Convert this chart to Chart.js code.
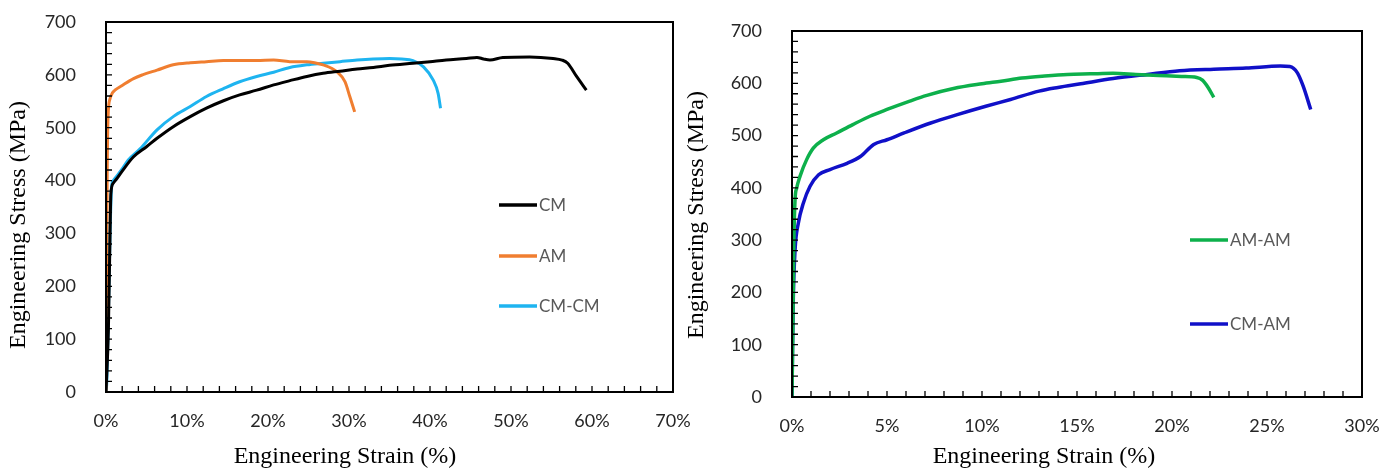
<!DOCTYPE html>
<html>
<head>
<meta charset="utf-8">
<script src="https://cdn.jsdelivr.net/npm/chart.js@4"></script>
<style>
  body { margin: 0; background: #fff; }
  .box { position: absolute; top: 0; height: 473px; }
</style>
</head>
<body>
<div class="box" style="left:0;width:695px"><canvas id="chartLeft"></canvas></div>
<div class="box" style="left:680px;width:715px"><canvas id="chartRight"></canvas></div>
<script>
// left panel: CM, AM, CM-CM  (strain %, stress MPa)
var cmStrain   = [0, 0.3, 0.5, 0.6, 0.9, 1.3, 2, 3.4, 5, 6.3, 8.3, 10.4, 12.4, 14.5, 16.5, 18.6, 20.7, 22.7, 24.8, 26.8, 28.9, 31, 33, 35, 37.9, 40, 42, 44.5, 45.8, 46.6, 47.4, 49, 52.3, 55.2, 56.3, 57, 58.1, 59.3]
var cmStress   = [0, 120, 300, 375, 395, 403, 418, 445, 464, 480, 502, 521, 537, 551, 562, 571, 581, 589, 597, 603, 607, 611, 614, 618, 622, 625, 628, 631, 633, 630, 628, 633, 634, 631, 628, 622, 597, 571]

var amStrain   = [0, 0.05, 0.1, 0.15, 0.25, 0.5, 0.8, 1.1, 2, 3.4, 4.5, 6.3, 8.3, 10.4, 12.4, 14.5, 16.5, 18.6, 20.7, 22.7, 24.8, 26, 26.8, 28.5, 29.5, 30.1, 30.7]
var amStress   = [0, 150, 300, 420, 520, 555, 566, 571, 580, 593, 600, 609, 619, 623, 625, 627, 627, 627, 628, 625, 625, 622, 619, 606, 587, 559, 530]

var cmcmStrain = [0, 0.1, 0.3, 0.5, 0.7, 0.9, 1.1, 2, 2.75, 4.2, 6.3, 8.3, 10.4, 12.4, 14.5, 16.5, 18.6, 20.7, 22.7, 24.8, 26.8, 28.9, 31, 33, 35, 36.5, 37.9, 39.2, 40.4, 41, 41.3]
var cmcmStress = [0, 20, 150, 300, 390, 400, 404, 422, 439, 460, 496, 521, 540, 559, 574, 587, 597, 605, 614, 619, 622, 625, 628, 630, 631, 630, 627, 615, 590, 565, 537]

// right panel: AM-AM, CM-AM
var amamStrain = [0, 0.05, 0.1, 0.16, 0.25, 0.42, 0.77, 1.12, 1.65, 2.35, 3.2, 4.1, 5, 6.2, 7.1, 8.5, 10, 11, 12.1, 13.3, 14.5, 15.7, 16.9, 18.1, 19.3, 20.5, 21.3, 21.6, 21.9, 22.2]
var amamStress = [0, 150, 300, 377, 400, 422, 454, 476, 492, 505, 521, 537, 550, 566, 577, 590, 599, 604, 610, 614, 617, 618, 619, 617, 615, 613, 611, 606, 592, 573]

var cmamStrain = [0, 0.03, 0.07, 0.16, 0.33, 0.6, 0.95, 1.4, 2, 2.9, 3.6, 4.3, 5, 5.9, 7.3, 8.7, 10.2, 11.5, 13, 14, 15.2, 16.9, 18.7, 20.4, 22.2, 23.9, 25.7, 26.2, 26.6, 26.9, 27.3]
var cmamStress = [0, 100, 191, 281, 332, 371, 403, 425, 435, 447, 460, 483, 492, 505, 524, 540, 556, 569, 585, 592, 599, 609, 617, 624, 627, 629, 633, 632, 620, 595, 550]

function pts(xs, ys) {
  return xs.map(function (v, i) { return { x: v, y: ys[i] } })
}

function line(label, color, xs, ys, w) {
  return {
    label: label,
    data: pts(xs, ys),
    borderColor: color,
    backgroundColor: color,
    borderWidth: w,
    showLine: true,
    pointRadius: 0,
    cubicInterpolationMode: 'monotone'
  }
}

var tickFont = { family: 'Lato', size: 18 }
var serif = '24px "Liberation Serif", serif'

// frame, inward minor ticks, in-plot legend and axis titles
var paperFrame = {
  id: 'paperFrame',
  afterDraw: function (chart, args, o) {
    var ctx = chart.ctx, a = chart.chartArea, x = chart.scales.x, y = chart.scales.y
    ctx.save()
    ctx.strokeStyle = '#000'
    ctx.lineWidth = 1.3
    ctx.beginPath()
    for (var v = x.min; v <= x.max + 1e-6; v += o.xMinor) {
      var px = x.getPixelForValue(v)
      ctx.moveTo(px, a.bottom); ctx.lineTo(px, a.bottom - 6)
    }
    for (var u = y.min; u <= y.max + 1e-6; u += o.yMinor) {
      var py = y.getPixelForValue(u)
      ctx.moveTo(a.left, py); ctx.lineTo(a.left + 6, py)
    }
    ctx.stroke()
    ctx.lineWidth = 2
    ctx.strokeRect(a.left, a.top, a.right - a.left, a.bottom - a.top)

    // legend
    ctx.font = '17px Lato'
    ctx.textAlign = 'left'
    ctx.textBaseline = 'middle'
    chart.data.datasets.forEach(function (ds, i) {
      var lx = a.left + o.legendX, ly = a.top + o.legendY[i]
      ctx.strokeStyle = ds.borderColor
      ctx.lineWidth = 3.5
      ctx.beginPath(); ctx.moveTo(lx, ly); ctx.lineTo(lx + 38, ly); ctx.stroke()
      ctx.fillStyle = '#595959'
      ctx.fillText(ds.label, lx + 40, ly + 1)
    })

    // axis titles
    ctx.fillStyle = '#000'
    ctx.font = serif
    ctx.textAlign = 'center'
    ctx.fillText('Engineering Strain (%)', o.xTitle[0], o.xTitle[1])
    ctx.translate(o.yTitle[0], o.yTitle[1])
    ctx.rotate(-Math.PI / 2)
    ctx.fillText('Engineering Stress (MPa)', 0, 0)
    ctx.restore()
  }
}

function makeOptions(xMax, xStep, yWidth, xHeight, pad, frame) {
  return {
    responsive: true,
    maintainAspectRatio: false,
    animation: false,
    layout: { padding: pad },
    plugins: {
      legend: { display: false },
      tooltip: { enabled: false },
      paperFrame: frame
    },
    scales: {
      x: {
        type: 'linear', min: 0, max: xMax,
        grid: { display: false },
        border: { display: false },
        ticks: { stepSize: xStep, padding: 10, color: '#262626', font: tickFont,
                 callback: function (v) { return v + '%' } },
        afterFit: function (s) {
          s.height = xHeight
          s.paddingLeft = 0; s.paddingRight = 0
        }
      },
      y: {
        min: 0, max: 700,
        grid: { display: false },
        border: { display: false },
        ticks: { stepSize: 100, padding: 22, color: '#262626', font: tickFont },
        afterFit: function (s) {
          s.width = yWidth
          s.paddingTop = 0; s.paddingBottom = 0
        }
      }
    }
  }
}

new Chart(document.getElementById('chartLeft'), {
  type: 'scatter',
  data: {
    datasets: [
      line('CM', '#000000', cmStrain, cmStress, 3),
      line('AM', '#F07E30', amStrain, amStress, 3),
      line('CM-CM', '#1EB4F0', cmcmStrain, cmcmStress, 3)
    ]
  },
  options: makeOptions(70, 10, 106, 81, { left: 0, right: 22, top: 22, bottom: 0 },
    { xMinor: 2, yMinor: 20, legendX: 393, legendY: [183, 234, 284], xTitle: [345, 457], yTitle: [19, 225] }),
  plugins: [paperFrame]
})

new Chart(document.getElementById('chartRight'), {
  type: 'scatter',
  data: {
    datasets: [
      line('AM-AM', '#0DB04B', amamStrain, amamStress, 3.5),
      line('CM-AM', '#1010C8', cmamStrain, cmamStress, 3.5)
    ]
  },
  options: makeOptions(30, 5, 112, 76, { left: 0, right: 33, top: 31, bottom: 0 },
    { xMinor: 1, yMinor: 20, legendX: 398, legendY: [209, 293], xTitle: [364, 457], yTitle: [17, 215] }),
  plugins: [paperFrame]
})
</script>
</body>
</html>
